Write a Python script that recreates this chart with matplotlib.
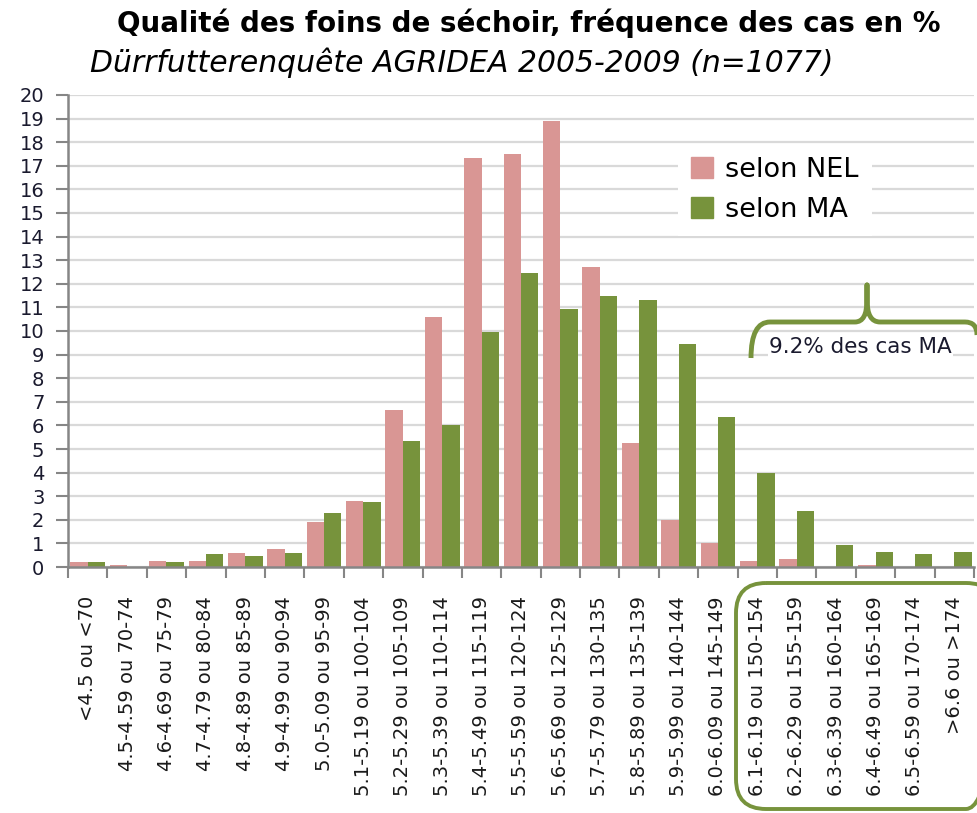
"""Qualité des foins de séchoir - fréquence des cas selon NEL et MA."""
import matplotlib
matplotlib.use("Agg")
import matplotlib.pyplot as plt
import numpy as np
from matplotlib.patches import FancyBboxPatch, PathPatch, Patch
from matplotlib.path import Path
from matplotlib.transforms import Affine2D

CATEGORIES = [
    "<4.5 ou <70", "4.5-4.59 ou 70-74", "4.6-4.69 ou 75-79", "4.7-4.79 ou 80-84",
    "4.8-4.89 ou 85-89", "4.9-4.99 ou 90-94", "5.0-5.09 ou 95-99", "5.1-5.19 ou 100-104",
    "5.2-5.29 ou 105-109", "5.3-5.39 ou 110-114", "5.4-5.49 ou 115-119", "5.5-5.59 ou 120-124",
    "5.6-5.69 ou 125-129", "5.7-5.79 ou 130-135", "5.8-5.89 ou 135-139", "5.9-5.99 ou 140-144",
    "6.0-6.09 ou 145-149", "6.1-6.19 ou 150-154", "6.2-6.29 ou 155-159", "6.3-6.39 ou 160-164",
    "6.4-6.49 ou 165-169", "6.5-6.59 ou 170-174", ">6.6 ou >174",
]
NEL = [0.2, 0.1, 0.25, 0.25, 0.6, 0.75, 1.9, 2.8, 6.65, 10.6, 17.35, 17.5,
       18.9, 12.7, 5.25, 2.0, 1.0, 0.25, 0.33, 0.0, 0.1, 0.0, 0.0]
MA = [0.2, 0.0, 0.2, 0.55, 0.47, 0.6, 2.3, 2.75, 5.35, 6.0, 9.97, 12.47,
      10.93, 11.5, 11.3, 9.45, 6.37, 4.0, 2.38, 0.92, 0.62, 0.55, 0.62]
SERIES = ["selon NEL", "selon MA"]
TITLE = "Qualité des foins de séchoir, fréquence des cas en %"
SUBTITLE = "Dürrfutterenquête AGRIDEA 2005-2009 (n=1077)"
NOTE = "9.2% des cas MA"

PINK = "#D99694"
GREEN = "#77933C"
W, H = 977, 813

fig = plt.figure(figsize=(W / 100, H / 100), dpi=100)
ax = fig.add_axes([68 / W, 1 - 567 / H, (974 - 68) / W, (567 - 95) / H])
px = Affine2D().scale(1 / W, -1 / H).translate(0, 1) + fig.transFigure

x = np.arange(len(CATEGORIES))
bw = 0.44
ax.bar(x - bw / 2, NEL, bw, color=PINK, zorder=2)
ax.bar(x + bw / 2, MA, bw, color=GREEN, zorder=2)

ax.set_xlim(-0.5, len(CATEGORIES) - 0.5)
ax.set_ylim(0, 20)
ax.set_yticks(range(0, 21))
ax.yaxis.grid(True, color="#D9D9D9", linewidth=1.6, zorder=0)
ax.set_axisbelow(True)
ax.set_xticks(np.arange(len(CATEGORIES) + 1) - 0.5, minor=True)
ax.set_xticks(x)
ax.set_xticklabels(CATEGORIES, rotation=90, fontsize=14, color="#1a1a1a")
ax.tick_params(axis="x", which="major", length=0, pad=21)
ax.tick_params(axis="x", which="minor", length=8, width=1.5, color="#868686")
ax.tick_params(axis="y", length=9, width=1.5, color="#868686", labelsize=14, labelcolor="#1a1a2e", pad=8)
for side in ("top", "right"):
    ax.spines[side].set_visible(False)
for side in ("left", "bottom"):
    ax.spines[side].set_color("#868686")
    ax.spines[side].set_linewidth(1.8)

fig.text(117 / W, 1 - 32 / H, TITLE, fontsize=20, fontweight="bold", family="DejaVu Sans", color="black")
fig.text(90 / W, 1 - 72 / H, SUBTITLE, fontsize=21.5, style="italic", family="DejaVu Sans", color="black")

handles = [Patch(color=PINK), Patch(color=GREEN)]
leg = ax.legend(handles, SERIES, loc="upper left", bbox_to_anchor=(664 / W, 1 - 130 / H),
                bbox_transform=fig.transFigure, frameon=True, fontsize=19.5,
                handlelength=0.8, handleheight=0.8, handletextpad=0.45, labelspacing=0.5,
                borderpad=0.5, fancybox=False, shadow=False)
leg.get_frame().set_linewidth(0)
leg.get_frame().set_facecolor("white")
leg.get_frame().set_alpha(1)

# curly brace over the high-MA classes
verts = [(751, 358), (751, 322), (770, 322), (855, 322), (867, 322), (867, 300),
         (867, 285), (867, 300), (867, 322), (880, 322), (965, 322), (977, 322), (977, 335)]
codes = [Path.MOVETO, Path.CURVE3, Path.CURVE3, Path.LINETO, Path.CURVE3, Path.CURVE3,
         Path.LINETO, Path.LINETO, Path.CURVE3, Path.CURVE3, Path.LINETO, Path.CURVE3, Path.CURVE3]
fig.patches.append(PathPatch(Path(verts, codes), transform=px, facecolor="none",
                             edgecolor=GREEN, linewidth=3.5, capstyle="butt", joinstyle="round"))
fig.text(769 / W, 1 - 347 / H, NOTE, fontsize=15.5, color="#1a1a2e", va="center",
         bbox=dict(facecolor="white", edgecolor="none", pad=1))

# rounded frame round the last x labels
fig.patches.append(FancyBboxPatch((736, 583), 260, 226, transform=px,
                                  boxstyle="round,pad=0,rounding_size=30",
                                  facecolor="none", edgecolor=GREEN, linewidth=2.8))

fig.savefig("out.png", dpi=100)
